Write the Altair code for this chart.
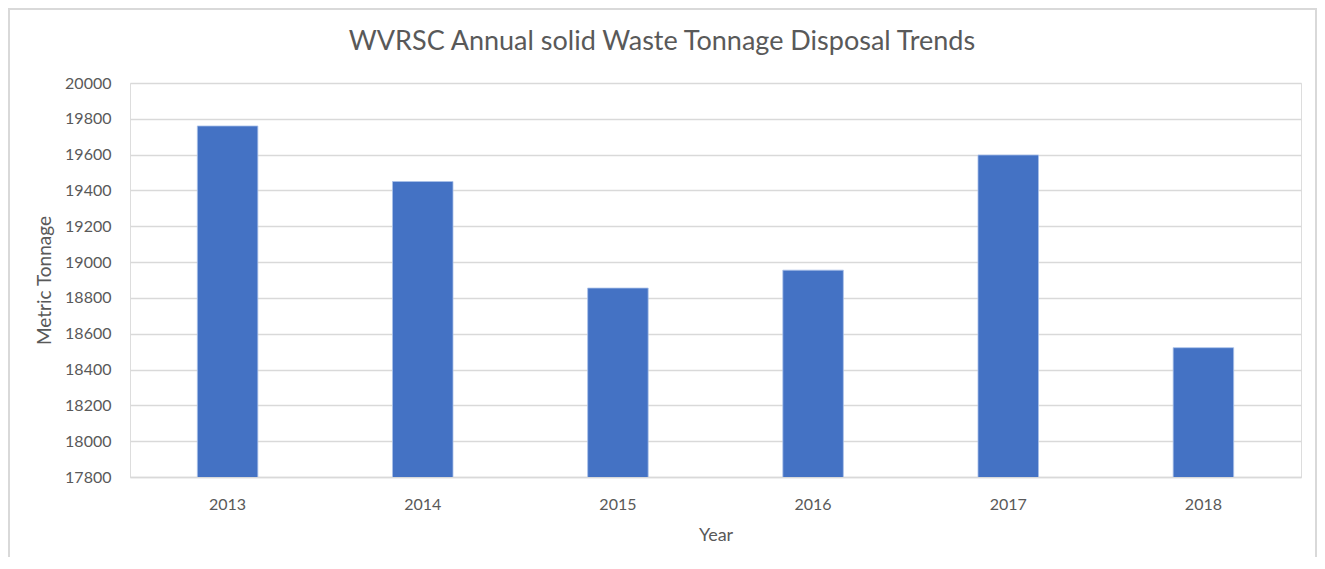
import altair as alt
import pandas as pd

title_text = "WVRSC Annual solid Waste Tonnage Disposal Trends"
years = ["2013", "2014", "2015", "2016", "2017", "2018"]
tonnage = [19760, 19450, 18855, 18955, 19598, 18522]
y_ticks = [17800, 18000, 18200, 18400, 18600, 18800, 19000, 19200, 19400, 19600, 19800, 20000]

df = pd.DataFrame({"Year": years, "Tonnage": tonnage})
title_df = pd.DataFrame({"t": [title_text]})

FONT = "Lato"
GREY = "#595959"
W, H = 1171, 394

bars = alt.Chart(df).mark_bar(color="#4472C4", stroke="#a9c0e8", strokeWidth=0.8, clip=True).encode(
    x=alt.X("Year:N", sort=years,
            scale=alt.Scale(paddingInner=0.69, paddingOuter=0.345),
            axis=alt.Axis(title="Year", labelAngle=0, ticks=False, domainColor="#d9d9d9",
                          domainWidth=1.5, labelPadding=19, labelFontSize=16,
                          labelColor=GREY, labelFont=FONT, titleFont=FONT,
                          titleFontSize=18, titleFontWeight="normal", titleColor=GREY,
                          titlePadding=14, grid=False)),
    y=alt.Y("Tonnage:Q",
            scale=alt.Scale(domain=[17800, 20000], zero=False, nice=False),
            axis=alt.Axis(title="Metric Tonnage", values=y_ticks, format="d",
                          ticks=False, domain=False, gridColor="#d9d9d9", gridWidth=1.3,
                          labelPadding=19, labelFontSize=16, labelColor=GREY,
                          labelFont=FONT, titleFont=FONT, titleFontSize=19,
                          titleFontWeight="normal", titleColor=GREY, titlePadding=10)),
)

title = alt.Chart(title_df).mark_text(
    font=FONT, fontSize=27, color=GREY, align="center", baseline="middle"
).encode(text="t:N", x=alt.value(532), y=alt.value(-41))

border = alt.Chart(df).mark_rect(fill=None, stroke="#d9d9d9", strokeWidth=1.5).encode(
    x=alt.value(-121), x2=alt.value(W + 15), y=alt.value(-74), y2=alt.value(H + 120)
)

chart = alt.layer(border, bars, title).properties(
    width=W, height=H,
    padding={"left": 122, "top": 75, "right": 16, "bottom": 80},
    autosize=alt.AutoSizeParams(type="none"),
).configure_view(stroke=None).configure(background="white")

chart.save("out.html", embed_options={"renderer": "svg", "actions": False})
